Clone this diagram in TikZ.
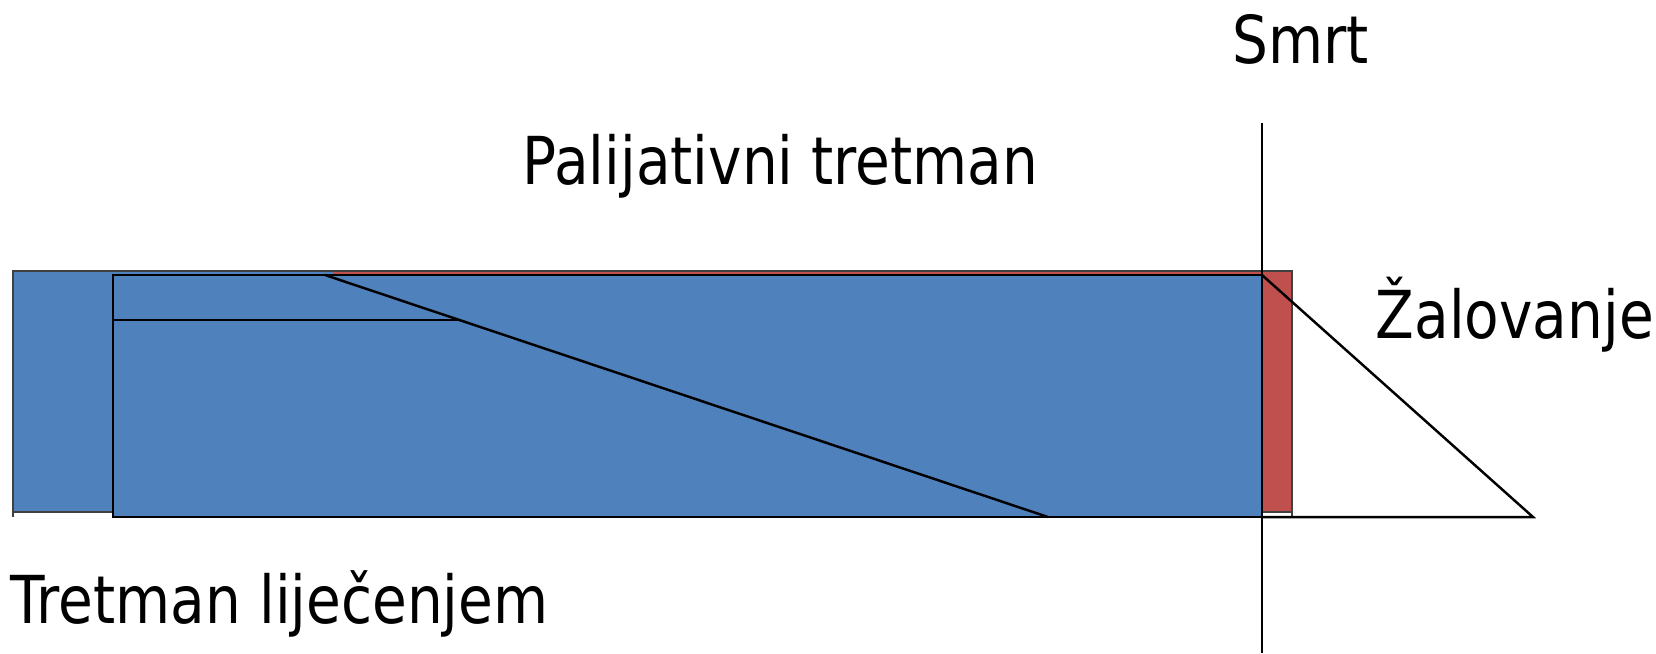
\documentclass[tikz,border=0pt]{standalone}
\usepackage{fontspec}
\newfontfamily\lblfont{DejaVu Sans}[FakeStretch=0.855]
\usepackage{tikz}
\usetikzlibrary{positioning}

\definecolor{curblue}{RGB}{79,129,189}
\definecolor{palred}{RGB}{192,80,77}

\tikzset{
    lbl/.style={anchor=base west,inner sep=0pt,font=\lblfont\fontsize{18.8}{22}\selectfont},
    edge/.style={line width=0.7pt,draw=black},
    rim/.style={line width=0.35pt,draw=black!75}
}

\begin{document}
\begin{tikzpicture}[x=0.01cm,y=-0.01cm]
    \useasboundingbox (0,0) rectangle (1656,653);
    % outer band
    \fill[palred] (333,271) rectangle (1292,512);
    \fill[curblue] (13,271) rectangle (333,512);
    \draw[rim] (13,517) -- (13,271) -- (1292,271) -- (1292,517);
    \draw[rim] (13,512) -- (113,512);
    \draw[rim] (1262,512) -- (1292,512);
    % inner band
    \filldraw[fill=curblue,edge] (113,275) rectangle (1262,517);
    \draw[edge] (113,320) -- (461,320);
    \draw[edge] (325,275) -- (1048,517);
    % mourning wedge
    \draw[edge] (1262,275) -- (1533,517) -- (1262,517);
    \draw[edge] (1262,123) -- (1262,653);
    % labels
    \node[lbl] (smrt) at (1232,63) {Smrt};
    \node[lbl] (pal) at (522,184) {Palijativni tretman};
    \node[lbl] (zal) at (1375,338) {Žalovanje};
    \node[lbl] (cur) at (10,623) {Tretman liječenjem};
\end{tikzpicture}
\end{document}
